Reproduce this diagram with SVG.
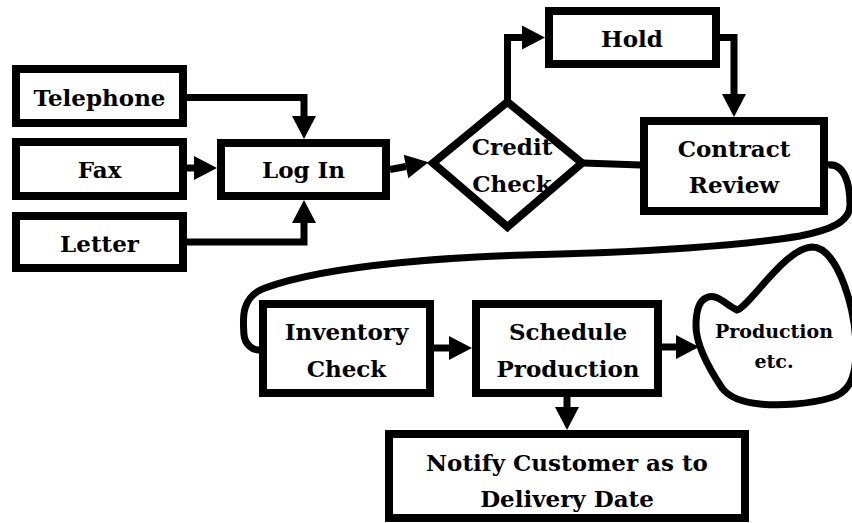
<svg xmlns="http://www.w3.org/2000/svg" width="852" height="523" viewBox="0 0 852 523">
<style>
.box{fill:#fff;stroke:#000;stroke-width:8}
.t{font-family:"DejaVu Serif",serif;font-weight:bold;font-size:23px;text-anchor:middle;fill:#000}
.s{font-size:19px}
.conn{fill:none;stroke:#000;stroke-width:7}
</style>
<defs>
<marker id="ah" markerUnits="userSpaceOnUse" markerWidth="23" markerHeight="24" refX="0" refY="12" orient="auto" overflow="visible">
<path d="M0,0 L23,12 L0,24 Z" fill="#000"/>
</marker>
</defs>
<rect width="852" height="523" fill="#fff"/>
<g id="connectors">
<path class="conn" d="M187,97.5 H304 V116" marker-end="url(#ah)"/>
<path class="conn" d="M187,168 H194" marker-end="url(#ah)"/>
<path class="conn" d="M187,242 H304 V223" marker-end="url(#ah)"/>
<path class="conn" d="M390,169.5 L406,166.5" marker-end="url(#ah)"/>
<path class="conn" d="M507.5,100 V37.5 H522" marker-end="url(#ah)"/>
<path class="conn" d="M720,37.5 H734 V94" marker-end="url(#ah)"/>
<path class="conn" d="M583,163 L641,165"/>
<path class="conn" d="M828,165 C845,163 850,185 850,205 C850,222 830,230 800,236 C740,246 640,252 560,254 C460,256 330,264 265,288 C240,297 243,320 244,335 C245,344 252,350 259,350"/>
<path class="conn" d="M434,348 H449" marker-end="url(#ah)"/>
<path class="conn" d="M662,347 H676" marker-end="url(#ah)"/>
<path class="conn" d="M567,397 V407" marker-end="url(#ah)"/>
</g>
<g id="telephone">
<rect class="box" x="16" y="69" width="167" height="54"/>
<text class="t" x="99.5" y="106">Telephone</text>
</g>
<g id="fax">
<rect class="box" x="16" y="142" width="167" height="54"/>
<text class="t" x="99.5" y="178">Fax</text>
</g>
<g id="letter">
<rect class="box" x="16" y="216" width="167" height="52"/>
<text class="t" x="99.5" y="252">Letter</text>
</g>
<g id="login">
<rect class="box" x="221" y="143" width="165" height="53"/>
<text class="t" x="303.5" y="178">Log In</text>
</g>
<g id="credit-check">
<path class="box" d="M433,163 L507.5,102 L582,163 L507.5,227 Z"/>
<text class="t" x="512" y="155">Credit</text>
<text class="t" x="512" y="192">Check</text>
</g>
<g id="hold">
<rect class="box" x="549" y="11" width="167" height="53"/>
<text class="t" x="632" y="47">Hold</text>
</g>
<g id="contract-review">
<rect class="box" x="644" y="121" width="180" height="90"/>
<text class="t" x="734" y="157">Contract</text>
<text class="t" x="734" y="193">Review</text>
</g>
<g id="inventory-check">
<rect class="box" x="263" y="304" width="167" height="89"/>
<text class="t" x="346.5" y="340">Inventory</text>
<text class="t" x="346.5" y="377">Check</text>
</g>
<g id="schedule-production">
<rect class="box" x="476" y="304" width="182" height="89"/>
<text class="t" x="568" y="340">Schedule</text>
<text class="t" x="568" y="377">Production</text>
</g>
<g id="production">
<path fill="#fff" stroke="#000" stroke-width="7" d="M706,298 C716,292 727,306 737,310 C750,306 785,248 812,247 C838,247 856,310 856,350 C856,380 848,393 830,398 C810,404 780,406 760,404 C740,402 728,396 722,388 C710,370 696,345 696,326 C696,310 699,301 706,298 Z"/>
<text class="t s" x="774" y="338">Production</text>
<text class="t s" x="774" y="368">etc.</text>
</g>
<g id="notify">
<rect class="box" x="389" y="434" width="356" height="84"/>
<text class="t" x="567" y="471">Notify Customer as to</text>
<text class="t" x="567" y="507">Delivery Date</text>
</g>
</svg>
